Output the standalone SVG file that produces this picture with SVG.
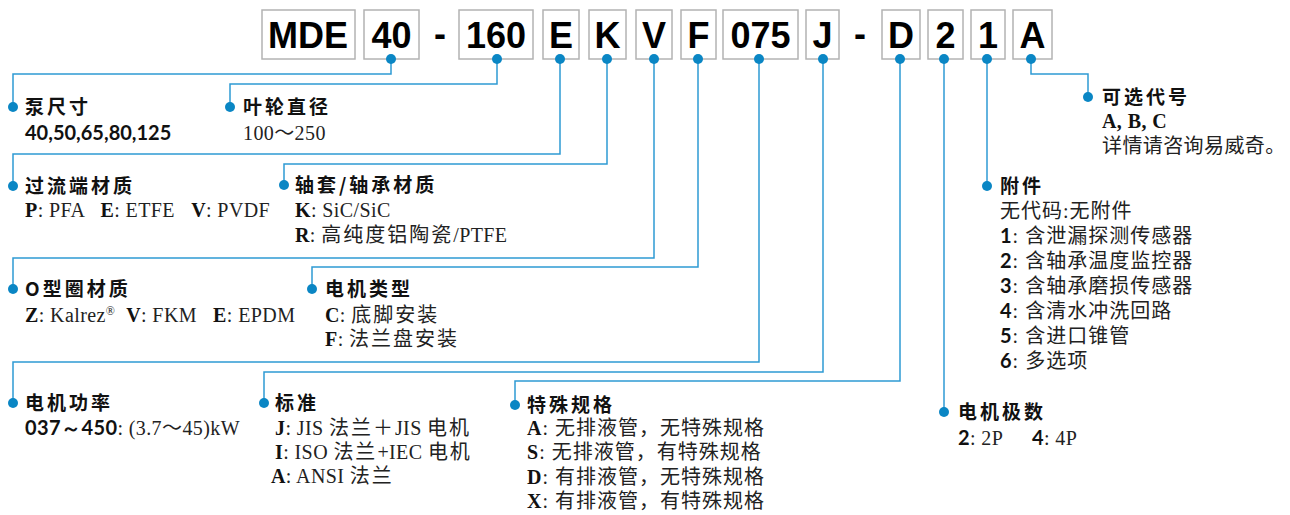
<svg xmlns="http://www.w3.org/2000/svg" width="1290" height="515" viewBox="0 0 1290 515">
<style>
.box{fill:#fff;stroke:#b3b3b3;stroke-width:1.5}
.code{font-family:"Liberation Sans",Arial,sans-serif;font-weight:bold;font-size:36px;text-anchor:middle;fill:#000}
.ln{fill:none;stroke:#2e9ad4;stroke-width:1.5}
.dot{fill:#0a86c4}
.title{font-family:"Noto Sans CJK SC",sans-serif;font-weight:bold;font-size:19px;letter-spacing:3px;fill:#111}
.body{font-family:"Liberation Serif","Noto Sans CJK SC",serif;font-size:20px;letter-spacing:0.4px;fill:#222;white-space:pre}
.c{letter-spacing:2px}
.c1{letter-spacing:1px}
.b{font-weight:bold;fill:#111}
.sb{font-family:Lato,"Liberation Sans",sans-serif;font-weight:bold;fill:#111}
</style>
<rect width="1290" height="515" fill="#fff"/>
<g id="code">
<rect class="box" x="262" y="10" width="93" height="49"/><text class="code" x="308" y="48">MDE</text>
<rect class="box" x="364" y="10" width="55" height="49"/><text class="code" x="391.5" y="48">40</text>
<text class="code" x="440" y="46">-</text>
<rect class="box" x="459" y="10" width="74" height="49"/><text class="code" x="496" y="48">160</text>
<rect class="box" x="543" y="10" width="36" height="49"/><text class="code" x="561" y="48">E</text>
<rect class="box" x="589" y="10" width="37" height="49"/><text class="code" x="607.5" y="48">K</text>
<rect class="box" x="636" y="10" width="36" height="49"/><text class="code" x="654" y="48">V</text>
<rect class="box" x="681" y="10" width="35" height="49"/><text class="code" x="698.5" y="48">F</text>
<rect class="box" x="723" y="10" width="75" height="49"/><text class="code" x="760.5" y="48">075</text>
<rect class="box" x="806" y="10" width="33" height="49"/><text class="code" x="822.5" y="48">J</text>
<text class="code" x="860" y="46">-</text>
<rect class="box" x="882" y="10" width="38" height="49"/><text class="code" x="901" y="48">D</text>
<rect class="box" x="928" y="10" width="35" height="49"/><text class="code" x="945.5" y="48">2</text>
<rect class="box" x="971" y="10" width="34" height="49"/><text class="code" x="988" y="48">1</text>
<rect class="box" x="1013" y="10" width="39" height="49"/><text class="code" x="1032.5" y="48">A</text>
</g>
<g id="connectors">
<path class="ln" d="M391 59V74H13V107"/>
<path class="ln" d="M497 59V84H230V107"/>
<path class="ln" d="M560 59V154H13V186"/>
<path class="ln" d="M607 59V164H284V185"/>
<path class="ln" d="M654 59V258H13V289"/>
<path class="ln" d="M698 59V267H312V289"/>
<path class="ln" d="M759 59V362H13V403"/>
<path class="ln" d="M823 59V372H264V403"/>
<path class="ln" d="M900 59V381H515V405"/>
<path class="ln" d="M944 59V412"/>
<path class="ln" d="M987 59V186"/>
<path class="ln" d="M1031 59V74H1088V97"/>
<g class="dot">
<circle cx="391" cy="59" r="5"/><circle cx="497" cy="59" r="5"/><circle cx="560" cy="59" r="5"/><circle cx="607" cy="59" r="5"/><circle cx="654" cy="59" r="5"/><circle cx="698" cy="59" r="5"/><circle cx="759" cy="59" r="5"/><circle cx="823" cy="59" r="5"/><circle cx="900" cy="59" r="5"/><circle cx="944" cy="59" r="5"/><circle cx="987" cy="59" r="5"/><circle cx="1031" cy="59" r="5"/>
<circle cx="13" cy="107" r="5"/><circle cx="230" cy="107" r="5"/><circle cx="13" cy="186" r="5"/><circle cx="284" cy="185" r="5"/><circle cx="13" cy="289" r="5"/><circle cx="312" cy="289" r="5"/><circle cx="13" cy="403" r="5"/><circle cx="264" cy="403" r="5"/><circle cx="515" cy="405" r="5"/><circle cx="944" cy="412" r="5"/><circle cx="987" cy="186" r="5"/><circle cx="1088" cy="97" r="5"/>
</g>
</g>
<g id="pump-size">
<text class="title" x="25" y="114">泵尺寸</text>
<text class="sb" x="25" y="140" font-size="20">40,50,65,80,125</text>
</g>
<g id="impeller">
<text class="title" x="243" y="114">叶轮直径</text>
<text class="body" x="243" y="140">100～250</text>
</g>
<g id="wetted-material">
<text class="title" x="25" y="193">过流端材质</text>
<text class="body" x="25" y="217"><tspan class="b">P</tspan>: PFA   <tspan class="b">E</tspan>: ETFE   <tspan class="b">V</tspan>: PVDF</text>
</g>
<g id="bearing-material">
<text class="title" x="295" y="192">轴套/轴承材质</text>
<text class="body" x="295" y="217"><tspan class="b">K</tspan>: SiC/SiC</text>
<text class="body" x="295" y="242"><tspan class="b">R</tspan>: <tspan class="c">高纯度铝陶瓷</tspan>/PTFE</text>
</g>
<g id="oring">
<text class="title" x="25" y="296">O型圈材质</text>
<text class="body" x="25" y="322"><tspan class="b">Z</tspan>: Kalrez<tspan font-size="12" dy="-7">®</tspan><tspan dy="7">  </tspan><tspan class="b">V</tspan>: FKM   <tspan class="b">E</tspan>: EPDM</text>
</g>
<g id="motor-type">
<text class="title" x="325" y="296">电机类型</text>
<text class="body" x="325" y="322"><tspan class="b">C</tspan>: <tspan class="c">底脚安装</tspan></text>
<text class="body" x="325" y="346"><tspan class="b">F</tspan>: <tspan class="c">法兰盘安装</tspan></text>
</g>
<g id="motor-power">
<text class="title" x="25" y="410">电机功率</text>
<text class="body" x="25" y="435"><tspan class="sb">037～450</tspan>: (3.7～45)kW</text>
</g>
<g id="standard">
<text class="title" x="275" y="410">标准</text>
<text class="body" x="275" y="435"><tspan class="b">J</tspan>: JIS <tspan class="c">法兰＋</tspan>JIS <tspan class="c">电机</tspan></text>
<text class="body" x="275" y="459"><tspan class="b">I</tspan>: ISO <tspan class="c">法兰</tspan>+IEC <tspan class="c">电机</tspan></text>
<text class="body" x="271" y="483"><tspan class="b">A</tspan>: ANSI <tspan class="c">法兰</tspan></text>
</g>
<g id="special-spec">
<text class="title" x="527" y="412">特殊规格</text>
<text class="body c1" x="527" y="435"><tspan class="b">A</tspan>: 无排液管，无特殊规格</text>
<text class="body c1" x="527" y="459"><tspan class="b">S</tspan>: 无排液管，有特殊规格</text>
<text class="body c1" x="527" y="484"><tspan class="b">D</tspan>: 有排液管，无特殊规格</text>
<text class="body c1" x="527" y="508"><tspan class="b">X</tspan>: 有排液管，有特殊规格</text>
</g>
<g id="motor-poles">
<text class="title" x="958" y="419">电机极数</text>
<text class="body" x="958" y="445"><tspan class="sb">2</tspan>: 2P</text>
<text class="body" x="1032" y="445"><tspan class="sb">4</tspan>: 4P</text>
</g>
<g id="accessories">
<text class="title" x="1000" y="193">附件</text>
<text class="body c1" x="1000" y="218">无代码:无附件</text>
<text class="body c1" x="1000" y="243"><tspan class="sb">1</tspan>: 含泄漏探测传感器</text>
<text class="body c1" x="1000" y="268"><tspan class="sb">2</tspan>: 含轴承温度监控器</text>
<text class="body c1" x="1000" y="293"><tspan class="sb">3</tspan>: 含轴承磨损传感器</text>
<text class="body c1" x="1000" y="318"><tspan class="sb">4</tspan>: 含清水冲洗回路</text>
<text class="body c1" x="1000" y="343"><tspan class="sb">5</tspan>: 含进口锥管</text>
<text class="body c1" x="1000" y="368"><tspan class="sb">6</tspan>: 多选项</text>
</g>
<g id="option-code">
<text class="title" x="1102" y="104">可选代号</text>
<text class="body b" x="1102" y="128">A, B, C</text>
<text class="body" x="1102" y="153" letter-spacing="0.5">详情请咨询易威奇。</text>
</g>
</svg>
